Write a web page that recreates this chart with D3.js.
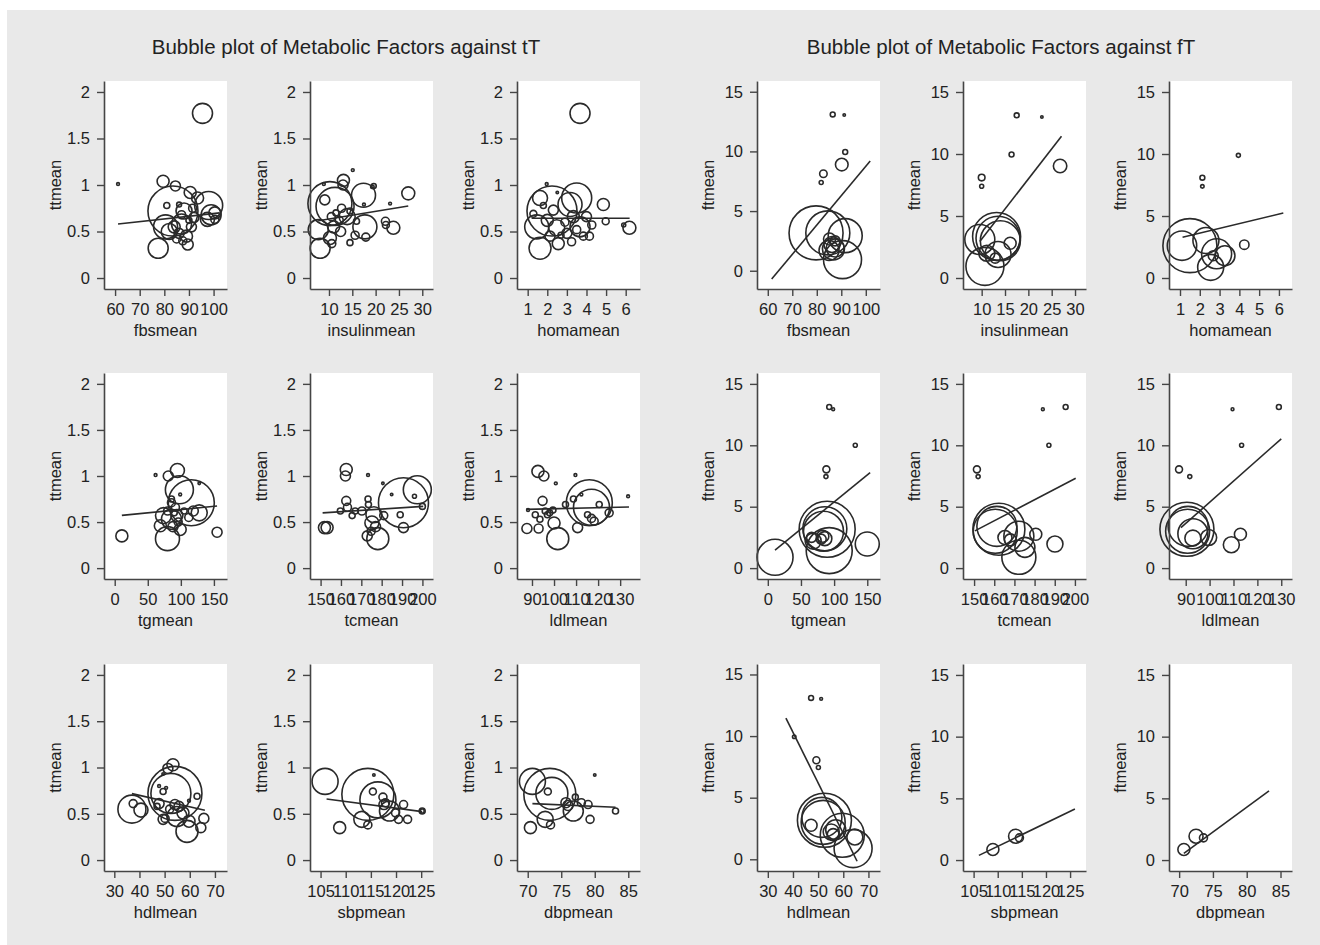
<!DOCTYPE html>
<html>
<head>
<meta charset="utf-8">
<script src="https://cdn.jsdelivr.net/npm/d3@7/dist/d3.min.js"></script>
<style>
  html, body { margin: 0; padding: 0; background: #ffffff; }
  svg text { font-family: "Liberation Sans", Arial, Helvetica, sans-serif; fill: #222222; }
</style>
</head>
<body>
<svg id="chart" width="1320" height="945"></svg>
<script>
// ---- titles ----
const titleTT = "Bubble plot of Metabolic Factors against tT";
const titleFT = "Bubble plot of Metabolic Factors against fT";

// ---- tick values ----
const ticksTT = [0, 0.5, 1, 1.5, 2];
const ticksFT = [0, 5, 10, 15];
const ticksFbs = [60, 70, 80, 90, 100];
const ticksIns = [10, 15, 20, 25, 30];
const ticksHoma = [1, 2, 3, 4, 5, 6];
const ticksTg = [0, 50, 100, 150];
const ticksTc = [150, 160, 170, 180, 190, 200];
const ticksLdl = [90, 100, 110, 120, 130];
const ticksHdl = [30, 40, 50, 60, 70];
const ticksSbp = [105, 110, 115, 120, 125];
const ticksDbp = [70, 75, 80, 85];

// ---- study bubbles: [factor mean, hormone mean, study weight] ----
const tt_fbs = [[61.2,1.01,2],[95.5,1.77,100],[79.5,1.04,36],[84.5,0.99,25],[83.5,0.72,625],[77.5,0.32,100],
  [98.0,0.78,196],[99.0,0.68,100],[97.5,0.63,49],[100.5,0.70,36],[100.5,0.63,16],[90.5,0.92,36],[93.5,0.86,36],
  [89.5,0.36,30],[81.0,0.78,9],[86.0,0.79,6],[88,0.72,64],[87,0.58,100],[84,0.55,36],[86,0.48,25],[89,0.45,36],
  [91,0.55,25],[85,0.42,16],[87.5,0.40,16],[92,0.65,25],[90,0.62,9],[82,0.50,64],[80.5,0.55,144],[87,0.68,16],[91.5,0.75,16]];
const tt_ins = [[8.9,1.01,2],[15.1,1.16,2],[19.6,0.99,6],[19.3,0.98,3],[17.5,0.79,2],[23.1,0.80,2],
  [10.2,0.80,484],[11.3,0.77,361],[12.7,0.75,16],[13.1,1.05,36],[13.0,1.0,25],[17.4,0.89,144],[17.7,0.55,144],
  [27,0.91,42],[22.1,0.61,16],[22.2,0.57,12],[23.8,0.54,42],[17.9,0.44,16],[8.1,0.32,100],[10.2,0.43,42],
  [10.6,0.37,16],[7.7,0.52,100],[14.5,0.38,9],[15.6,0.46,16],[15.9,0.61,9],[9.1,0.84,25],[13.9,0.66,64],
  [11.5,0.70,9],[12.2,0.62,16],[14.5,0.72,9],[11,0.55,36],[12.5,0.5,25],[10.5,0.66,16]];
const tt_homa = [[3.67,1.77,100],[2.24,0.72,625],[3.5,0.86,225],[3.16,0.79,144],[1.46,0.55,144],[1.63,0.32,121],
  [1.63,0.86,56],[1.29,0.69,12],[2.31,0.73,25],[2.48,0.54,64],[2.56,0.37,36],[2.14,0.45,25],[3.24,0.39,16],
  [3.67,0.55,100],[3.84,0.45,16],[4.15,0.45,16],[4.27,0.57,16],[4.86,0.79,36],[4.98,0.61,12],[6.19,0.54,42],
  [5.9,0.57,4],[1.97,1.01,2],[2.51,0.92,1.5],[4.0,0.66,25],[3.33,0.66,36],[2.9,0.6,16],[2.7,0.46,9],
  [3.5,0.52,16],[2.0,0.62,36],[1.8,0.78,9],[3.0,0.48,25]];
const ft_fbs = [[86.5,13.1,6],[91.2,13.05,1.5],[91.6,9.95,6],[90.2,8.9,40],[82.7,8.13,14],[81.8,7.4,4],
  [79.7,3.17,729],[84.5,3.17,484],[91.6,2.94,289],[90.5,0.93,361],[85.2,2.66,36],[86.2,2.2,64],[86.8,1.82,121],
  [87.5,1.9,81],[85,1.7,100],[87.5,2.5,25]];
const ft_ins = [[17.5,13.12,6],[22.9,12.99,1.5],[16.4,9.96,6],[10,8.1,11],[10,7.4,4],[26.8,9.03,45],
  [13.2,3.35,576],[13.5,3.2,484],[9.6,3.1,225],[10.7,0.94,361],[11.1,2.0,64],[16.1,2.8,36],[12.9,1.6,25],
  [13.5,1.9,169],[14,3.0,400]];
const ft_homa = [[2.13,8.09,6],[2.13,7.39,3],[3.95,9.89,4],[4.25,2.69,22],[1.10,2.61,216],[1.5,2.61,729],
  [2.31,3.02,169],[2.85,1.95,225],[2.55,0.86,169],[3.27,1.8,100],[2.68,1.8,25]];

const tt_tg = [[10.8,0.35,36],[61.8,1.01,2],[81,1.0,25],[94.8,1.06,49],[115.8,0.71,529],[97.8,0.85,196],
  [79.8,0.32,144],[69,0.46,36],[99,0.42,36],[127.8,0.6,64],[118.8,0.62,25],[154.8,0.39,25],[73.8,0.57,64],
  [85.8,0.53,100],[85.8,0.71,16],[91.8,0.66,16],[99,0.80,2],[85.8,0.75,9],[127.8,0.92,1.5],[88,0.45,25],
  [94,0.57,36],[80,0.62,16],[90,0.6,9],[96,0.5,16],[105,0.62,9],[112,0.55,16]];
const tt_tc = [[151.9,0.44,36],[153.2,0.44,36],[162.6,1.07,36],[162.2,1.0,25],[162.6,0.73,20],[163.2,0.66,16],
  [159.7,0.62,9],[165.5,0.57,9],[173.3,1.01,2],[173.3,0.75,9],[173.5,0.69,9],[172.9,0.35,25],[178.1,0.32,121],
  [175.2,0.49,49],[176.2,0.58,64],[181,0.57,16],[170.3,0.62,16],[174.8,0.40,16],[180.6,0.92,1.5],[184.9,0.80,1.5],
  [190.7,0.71,625],[197.5,0.85,196],[190.7,0.44,25],[189.1,0.58,9],[196.1,0.78,4],[200,0.67,9],[167,0.62,9],[177,0.45,25]];
const tt_ldl = [[92.7,1.05,36],[95.4,1.0,25],[100.8,0.92,2],[109.7,1.01,2],[94.8,0.73,20],[88.2,0.63,2],
  [87.7,0.43,25],[93,0.43,20],[93.6,0.53,9],[96,0.62,9],[98,0.60,9],[99.5,0.63,9],[97,0.58,9],[101.7,0.32,121],
  [100,0.49,36],[116,0.71,529],[117,0.66,324],[110.7,0.44,25],[115.2,0.58,9],[117,0.54,16],[118.2,0.51,16],
  [120.5,0.69,9],[125,0.60,16],[105.2,0.69,9],[108.8,0.75,9],[112.4,0.80,2],[133.6,0.78,2],[91.5,0.58,9]];
const ft_tg = [[92.6,13.12,6],[98.6,12.94,2],[131.9,10.0,4],[88.3,8.04,12],[87.7,7.45,4],[10.9,0.88,324],
  [150,1.96,144],[89.5,3.16,784],[86,3.2,484],[92.6,1.42,529],[84,3.0,400],[83,2.6,36],[80.5,2.36,25],
  [68.4,2.2,64],[66,2.5,25],[86,2.4,49]];
const ft_tc = [[151.4,8.04,12],[152,7.45,4],[184.1,12.94,2],[195.4,13.12,6],[187.1,10.0,4],[190.1,1.96,64],
  [180.6,2.76,36],[162.3,3.16,676],[161.3,3.4,400],[160.5,3.0,484],[172.2,0.88,289],[172.2,2.6,225],
  [175.2,1.69,100],[165.3,2.49,49],[168,2.3,36]];
const ft_ldl = [[87.2,8.04,12],[91.7,7.45,4],[109.6,12.94,2],[129,13.12,6],[113.4,10,4],[112.9,2.76,36],
  [109.1,1.9,64],[93,2.44,64],[99.6,2.49,64],[90.5,3.16,729],[91,3.4,400],[90.8,3.0,484],[93,2.8,225]];

const tt_hdl = [[37,0.55,196],[37.5,0.61,16],[40.6,0.54,49],[53.3,1.03,36],[51.3,0.99,25],[54.1,0.72,729],
  [52.5,0.72,400],[47.8,0.61,25],[49.4,0.74,9],[50.6,0.78,2],[47.8,0.80,2],[49.4,0.93,1.5],[49.4,0.44,25],
  [50.2,0.45,16],[54.1,0.60,25],[55.7,0.58,25],[54.9,0.47,100],[58.9,0.31,121],[59.7,0.42,36],[57.3,0.51,36],
  [64.4,0.35,25],[65.6,0.45,25],[62.9,0.69,9],[59.7,0.64,2],[47,0.58,9],[52,0.55,16]];
const tt_sbp = [[105.9,0.85,169],[108.8,0.35,36],[114.4,0.71,676],[116.4,0.65,324],[113.2,0.44,64],
  [114.4,0.38,16],[115.6,0.92,1.5],[115.4,0.74,12],[117.4,0.68,16],[117.9,0.62,16],[117.6,0.60,25],
  [118.7,0.53,100],[121.5,0.60,16],[120.5,0.44,16],[122.3,0.44,16],[119.9,0.51,16],[125.2,0.53,9],[125.2,0.53,4]];
const tt_dbp = [[70.7,0.85,169],[70.4,0.35,36],[73.3,0.71,676],[73.6,0.72,256],[73.0,0.74,12],[72.6,0.44,64],
  [73.4,0.38,16],[75.7,0.62,25],[76.0,0.59,25],[76.8,0.53,100],[77.1,0.68,9],[78,0.62,16],[79,0.60,16],
  [79.3,0.44,16],[80,0.92,1.5],[83.1,0.53,9]];
const ft_hdl = [[47.2,13.1,6],[51.2,13.02,2],[40.5,9.94,3],[49.3,8.04,12],[50.1,7.45,4],[47.2,2.76,36],
  [52.5,3.17,729],[51.5,3.4,400],[52,3.0,484],[59.6,1.95,484],[63.9,0.87,361],[64.6,1.81,64],[55.2,2.22,64],
  [56,2.0,36],[57,2.4,100]];
const ft_sbp = [[109,0.86,36],[113.7,1.93,49],[114.5,1.8,16]];
const ft_dbp = [[70.7,0.86,36],[72.5,1.93,49],[73.6,1.8,16]];

// ---- fitted lines: endpoints [x, y] over each factor's range ----
const fit_tt_fbs = [[61.2,0.58],[102.5,0.70]];
const fit_tt_ins = [[7.7,0.615],[27.0,0.775]];
const fit_tt_homa = [[1.2,0.643],[6.2,0.643]];
const fit_ft_fbs = [[61.6,-0.70],[101.8,9.2]];
const fit_ft_ins = [[9.6,2.94],[27.1,11.44]];
const fit_ft_homa = [[1.13,3.29],[6.22,5.24]];
const fit_tt_tg = [[10.8,0.573],[154.8,0.674]];
const fit_tt_tc = [[151,0.60],[200.4,0.67]];
const fit_tt_ldl = [[87.3,0.638],[134,0.663]];
const fit_ft_tg = [[10.9,1.47],[154.3,7.77]];
const fit_ft_tc = [[150.4,3.03],[200.4,7.31]];
const fit_ft_ldl = [[88,3.29],[130,10.53]];
const fit_tt_hdl = [[37,0.718],[66,0.539]];
const fit_tt_sbp = [[106.2,0.66],[125.2,0.523]];
const fit_tt_dbp = [[70.7,0.61],[83.1,0.57]];
const fit_ft_hdl = [[37.2,11.45],[65.5,-0.16]];
const fit_ft_sbp = [[106.1,0.38],[126,4.13]];
const fit_ft_dbp = [[70.7,0.54],[83.3,5.61]];

// ---- axis ranges (including plot-region margin) ----
const domTT = [-0.118, 2.118];
const domFT = [-0.887, 15.887];

// ---- panel layout ----
const colsLeft = [104, 310, 517];
const colsRight = [757, 963, 1169];
const rowTop = [81, 373, 664];
const rowBottom = [289, 579, 871];
const plotW = 123;

const panels = [
  // tT block
  {c: colsLeft[0], r: 0, data: tt_fbs, fit: fit_tt_fbs, xt: ticksFbs, xl: "fbsmean", yl: "ttmean", yt: ticksTT, xd: [55.5, 105.45], yd: domTT},
  {c: colsLeft[1], r: 0, data: tt_ins, fit: fit_tt_ins, xt: ticksIns, xl: "insulinmean", yl: "ttmean", yt: ticksTT, xd: [5.93, 32.3], yd: domTT},
  {c: colsLeft[2], r: 0, data: tt_homa, fit: fit_tt_homa, xt: ticksHoma, xl: "homamean", yl: "ttmean", yt: ticksTT, xd: [0.455, 6.73], yd: domTT},
  {c: colsLeft[0], r: 1, data: tt_tg, fit: fit_tt_tg, xt: ticksTg, xl: "tgmean", yl: "ttmean", yt: ticksTT, xd: [-16.2, 169.8], yd: domTT},
  {c: colsLeft[1], r: 1, data: tt_tc, fit: fit_tt_tc, xt: ticksTc, xl: "tcmean", yl: "ttmean", yt: ticksTT, xd: [144.8, 205.2], yd: domTT},
  {c: colsLeft[2], r: 1, data: tt_ldl, fit: fit_tt_ldl, xt: ticksLdl, xl: "ldlmean", yl: "ttmean", yt: ticksTT, xd: [83.2, 139], yd: domTT},
  {c: colsLeft[0], r: 2, data: tt_hdl, fit: fit_tt_hdl, xt: ticksHdl, xl: "hdlmean", yl: "ttmean", yt: ticksTT, xd: [25.9, 74.8], yd: domTT},
  {c: colsLeft[1], r: 2, data: tt_sbp, fit: fit_tt_sbp, xt: ticksSbp, xl: "sbpmean", yl: "ttmean", yt: ticksTT, xd: [102.9, 127.35], yd: domTT},
  {c: colsLeft[2], r: 2, data: tt_dbp, fit: fit_tt_dbp, xt: ticksDbp, xl: "dbpmean", yl: "ttmean", yt: ticksTT, xd: [68.4, 86.75], yd: domTT},
  // fT block
  {c: colsRight[0], r: 0, data: ft_fbs, fit: fit_ft_fbs, xt: ticksFbs, xl: "fbsmean", yl: "ftmean", yt: ticksFT, xd: [55.6, 105.8], yd: [-1.53, 15.9]},
  {c: colsRight[1], r: 0, data: ft_ins, fit: fit_ft_ins, xt: ticksIns, xl: "insulinmean", yl: "ftmean", yt: ticksFT, xd: [6.0, 32.35], yd: domFT},
  {c: colsRight[2], r: 0, data: ft_homa, fit: fit_ft_homa, xt: ticksHoma, xl: "homamean", yl: "ftmean", yt: ticksFT, xd: [0.444, 6.66], yd: domFT},
  {c: colsRight[0], r: 1, data: ft_tg, fit: fit_ft_tg, xt: ticksTg, xl: "tgmean", yl: "ftmean", yt: ticksFT, xd: [-16.3, 169.2], yd: domFT},
  {c: colsRight[1], r: 1, data: ft_tc, fit: fit_ft_tc, xt: ticksTc, xl: "tcmean", yl: "ftmean", yt: ticksFT, xd: [144.5, 205.5], yd: domFT},
  {c: colsRight[2], r: 1, data: ft_ldl, fit: fit_ft_ldl, xt: ticksLdl, xl: "ldlmean", yl: "ftmean", yt: ticksFT, xd: [83, 134.5], yd: domFT},
  {c: colsRight[0], r: 2, data: ft_hdl, fit: fit_ft_hdl, xt: ticksHdl, xl: "hdlmean", yl: "ftmean", yt: ticksFT, xd: [25.7, 74.6], yd: [-0.95, 15.85]},
  {c: colsRight[1], r: 2, data: ft_sbp, fit: fit_ft_sbp, xt: ticksSbp, xl: "sbpmean", yl: "ftmean", yt: ticksFT, xd: [102.8, 128.3], yd: domFT},
  {c: colsRight[2], r: 2, data: ft_dbp, fit: fit_ft_dbp, xt: ticksDbp, xl: "dbpmean", yl: "ftmean", yt: ticksFT, xd: [68.5, 86.7], yd: domFT}
];

const svg = d3.select("#chart");
const ink = "#2a2a2a";
const axisInk = "#454545";
const fontSize = 16.5;

// page background
svg.append("rect").attr("width", 1320).attr("height", 945).attr("fill", "#ffffff");
svg.append("rect").attr("x", 7).attr("y", 10).attr("width", 1313).attr("height", 935).attr("fill", "#e9e9e9");

// block titles
svg.append("text").attr("x", 346).attr("y", 54).attr("text-anchor", "middle")
  .style("font-size", "20.5px").text(titleTT);
svg.append("text").attr("x", 1001).attr("y", 54).attr("text-anchor", "middle")
  .style("font-size", "20.5px").text(titleFT);

// bubble radius from study weight (area proportional to weight)
const rScale = d3.scaleSqrt().domain([0, 784]).range([0, 28]);

panels.forEach(p => {
  const left = p.c, right = p.c + plotW;
  const top = rowTop[p.r], bottom = rowBottom[p.r];
  const x = d3.scaleLinear().domain(p.xd).range([left, right]);
  const y = d3.scaleLinear().domain(p.yd).range([bottom, top]);
  const g = svg.append("g");

  // plot region
  g.append("rect").attr("x", left).attr("y", top).attr("width", plotW).attr("height", bottom - top)
    .attr("fill", "#ffffff");

  // bubbles
  g.append("g").selectAll("circle").data(p.data).join("circle")
    .attr("cx", d => x(d[0])).attr("cy", d => y(d[1])).attr("r", d => Math.max(rScale(d[2]), 1))
    .attr("fill", "none").attr("stroke", ink).attr("stroke-width", 1.6);

  // linear fit
  g.append("path").datum(p.fit)
    .attr("d", d3.line().x(d => x(d[0])).y(d => y(d[1])))
    .attr("fill", "none").attr("stroke", ink).attr("stroke-width", 1.6);

  // axes
  const yAxis = d3.axisLeft(y).tickValues(p.yt).tickFormat(d => String(d))
    .tickSize(7).tickSizeOuter(0).tickPadding(7);
  const xAxis = d3.axisBottom(x).tickValues(p.xt).tickFormat(d => String(d))
    .tickSize(7).tickSizeOuter(0).tickPadding(7);
  const ya = g.append("g").attr("transform", `translate(${left},0)`).call(yAxis);
  const xa = g.append("g").attr("transform", `translate(0,${bottom})`).call(xAxis);
  [ya, xa].forEach(a => {
    a.select(".domain").attr("stroke", axisInk).attr("stroke-width", 1.6);
    a.selectAll(".tick line").attr("stroke", axisInk).attr("stroke-width", 1.4);
    a.selectAll(".tick text").attr("fill", "#222222")
      .style("font-size", fontSize + "px").style("font-family", '"Liberation Sans", Arial, sans-serif');
  });

  // axis titles
  g.append("text").attr("x", (left + right) / 2).attr("y", bottom + 47).attr("text-anchor", "middle")
    .style("font-size", fontSize + "px").text(p.xl);
  g.append("text").attr("transform", `translate(${left - 43},${(top + bottom) / 2}) rotate(-90)`)
    .attr("text-anchor", "middle").style("font-size", fontSize + "px").text(p.yl);
});
</script>
</body>
</html>
